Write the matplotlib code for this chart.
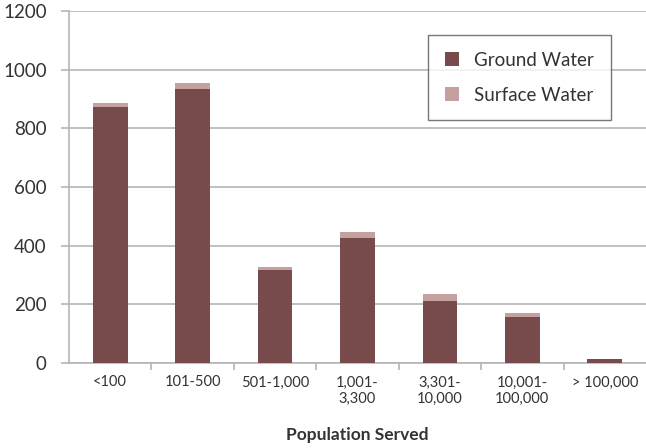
import matplotlib
matplotlib.use("Agg")
import matplotlib.pyplot as plt
import numpy as np

categories = ["<100", "101-500", "501-1,000", "1,001-\n3,300", "3,301-\n10,000",
              "10,001-\n100,000", "> 100,000"]
ground_water = [872, 934, 316, 426, 213, 158, 12]
surface_water = [14, 21, 12, 21, 21, 14, 2]

dark = "#774B4B"
light = "#C4A09E"
grid_col = "#B5B5B5"
text_col = "#333333"

plt.rcParams["font.family"] = ["Lato", "DejaVu Sans"]

W, H = 646, 448
fig = plt.figure(figsize=(W / 100, H / 100), dpi=100)
ax = fig.add_axes([69 / W, 1 - 363 / H, 577 / W, 352 / H])

x = np.arange(len(categories))
w = 0.42
ax.bar(x, ground_water, w, color=dark, label="Ground Water", zorder=3)
ax.bar(x, surface_water, w, bottom=ground_water, color=light,
       label="Surface Water", zorder=3)

ax.set_xlim(-0.5, len(categories) - 0.5)
ax.set_ylim(0, 1200)
ax.set_yticks(np.arange(0, 1201, 200))
ax.yaxis.grid(True, color=grid_col, linewidth=1.2, zorder=0)
ax.set_axisbelow(True)

for s in ["top", "right"]:
    ax.spines[s].set_visible(False)
for s in ["left", "bottom"]:
    ax.spines[s].set_color(grid_col)
    ax.spines[s].set_linewidth(1.2)

ax.tick_params(axis="y", colors=grid_col, length=6, width=1.2, labelsize=13.5,
               labelcolor=text_col, pad=10)
ax.set_xticks(x)
ax.set_xticklabels(categories, fontsize=10.5, color=text_col, linespacing=1.25)
ax.tick_params(axis="x", length=0, pad=9)
# separators between categories on the bottom axis
ax.set_xticks(np.arange(0.5, len(categories) - 0.5), minor=True)
ax.tick_params(axis="x", which="minor", length=5, width=1.2, colors=grid_col)

ax.set_xlabel("Population Served", fontsize=12.5, fontweight="bold",
              color=text_col, labelpad=15)

leg = ax.legend(loc="upper right", bbox_to_anchor=(0.939, 0.932), fontsize=13.5,
                frameon=True, fancybox=False, edgecolor="#555555",
                handlelength=0.75, handleheight=0.75, borderpad=0.9,
                labelspacing=0.95, handletextpad=0.8, borderaxespad=0)
leg.get_frame().set_linewidth(1.0)
for t in leg.get_texts():
    t.set_color(text_col)

fig.savefig("out.png", dpi=100)
